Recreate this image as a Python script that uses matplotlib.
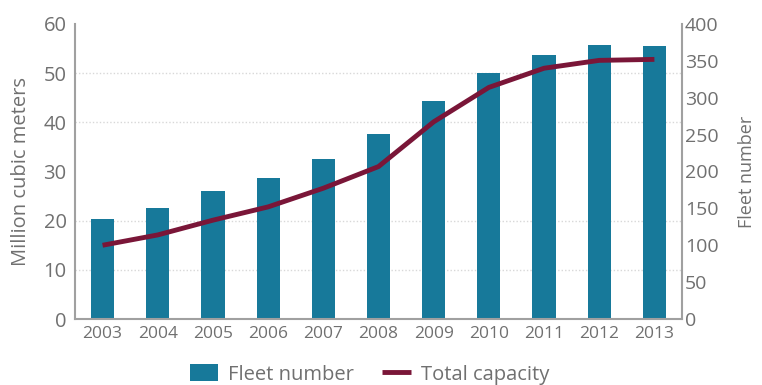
import numpy as np
import matplotlib
matplotlib.use("Agg")
import matplotlib.pyplot as plt

years = ["2003", "2004", "2005", "2006", "2007", "2008", "2009", "2010", "2011", "2012", "2013"]
fleet_number = [135, 151, 173, 191, 217, 251, 295, 334, 358, 371, 370]
total_capacity = [15.0, 17.1, 20.1, 22.8, 26.6, 31.0, 40.1, 47.1, 51.0, 52.6, 52.8]

bar_color = "#17799a"
line_color = "#7a1638"
text_color = "#707070"
spine_color = "#a0a0a0"

plt.rcParams["font.family"] = ["Open Sans", "DejaVu Sans"]

fig = plt.figure(figsize=(7.62, 3.85), dpi=100)
ax_bar = fig.add_axes([0.0984, 0.1714, 0.7966, 0.7663])
x = np.arange(len(years))

# bars: fleet number on the right-hand scale
ax_bar.bar(x, fleet_number, width=0.42, color=bar_color, zorder=2, label="Fleet number")
ax_bar.set_ylim(0, 400)
ax_bar.set_xlim(-0.5, len(years) - 0.5)
ax_bar.set_yticks(np.arange(0, 401, 50))
ax_bar.set_yticks(np.linspace(0, 400, 7), minor=True)
ax_bar.grid(True, which="minor", axis="y", color="#d8d8d8", linestyle=(0, (1, 1.5)), linewidth=1)
ax_bar.set_axisbelow(True)
ax_bar.set_xticks(x)
ax_bar.set_xticklabels(years)

# line: total capacity on the left-hand scale
ax_line = ax_bar.twinx()
ax_line.plot(x, total_capacity, color=line_color, linewidth=3.5, solid_capstyle="butt", label="Total capacity")
ax_line.set_ylim(0, 60)
ax_line.set_yticks(np.arange(0, 61, 10))

# swap sides after twinx
ax_bar.yaxis.tick_right()
ax_bar.yaxis.set_label_position("right")
ax_line.yaxis.tick_left()
ax_line.yaxis.set_label_position("left")
ax_bar.set_ylabel("Fleet number", color=text_color, fontsize=13, labelpad=14)
ax_line.set_ylabel("Million cubic meters", color=text_color, fontsize=14.5, labelpad=9)

for ax in (ax_bar, ax_line):
    for side in ("top", "left", "right", "bottom"):
        ax.spines[side].set_visible(False)
    ax.tick_params(axis="both", which="both", length=0, colors=text_color)

ax_line.spines["left"].set_visible(True)
ax_line.spines["left"].set_color(spine_color)
ax_line.spines["left"].set_linewidth(1.5)
ax_bar.spines["right"].set_visible(True)
ax_bar.spines["right"].set_color(spine_color)
ax_bar.spines["right"].set_linewidth(1.5)
ax_bar.spines["bottom"].set_visible(True)
ax_bar.spines["bottom"].set_color(spine_color)
ax_bar.spines["bottom"].set_linewidth(1.5)

ax_line.tick_params(axis="y", labelsize=14.5, pad=6)
ax_bar.tick_params(axis="y", which="major", labelsize=14, pad=2)
ax_bar.tick_params(axis="x", labelsize=12.5, pad=5)

h1, l1 = ax_bar.get_legend_handles_labels()
h2, l2 = ax_line.get_legend_handles_labels()
fig.legend(h1 + h2, l1 + l2, loc="center", bbox_to_anchor=(0.485, 0.027), ncol=2,
           frameon=False, fontsize=14.5, labelcolor=text_color, handlelength=1.4,
           handleheight=0.9, columnspacing=1.4, handletextpad=0.5)

fig.savefig("out.png", dpi=100, facecolor="white")
